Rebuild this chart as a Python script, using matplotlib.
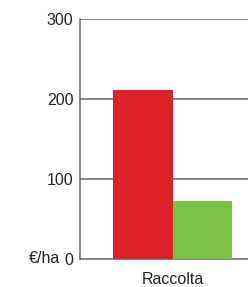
import matplotlib
matplotlib.use("Agg")
import matplotlib.pyplot as plt

plt.rcParams["font.family"] = ["Liberation Sans", "DejaVu Sans"]

CATEGORIES = ["Raccolta"]
SERIES_A = [211]  # red
SERIES_B = [72]   # green
Y_TICKS = [0, 100, 200, 300]
UNIT_LABEL = "€/ha"

RED = "#dc2129"
GREEN = "#7bc143"
LINE = "#666666"
TEXT = "#222222"
FS = 11.5

fig = plt.figure(figsize=(2.48, 2.87), dpi=100)
ax = fig.add_axes([0.3206, 0.0993, 0.6794, 0.8362])

width = 0.356
xs = range(len(CATEGORIES))
ax.bar([x - width / 2 for x in xs], SERIES_A, width=width, color=RED, zorder=3)
ax.bar([x + width / 2 for x in xs], SERIES_B, width=width * 0.99, color=GREEN, zorder=3)

ax.set_xlim(-0.552, 0.448)
ax.set_ylim(0, 300)
ax.set_yticks(Y_TICKS)
ax.set_xticks(list(xs), labels=CATEGORIES)
ax.tick_params(axis="both", length=0, labelsize=FS, colors=TEXT)
ax.tick_params(axis="y", pad=4.5)
ax.tick_params(axis="x", pad=9.5)

for y in Y_TICKS[1:]:
    ax.axhline(y, color=LINE, linewidth=1.1, zorder=1)

for side in ["top", "right"]:
    ax.spines[side].set_visible(False)
ax.spines["left"].set_color(LINE)
ax.spines["bottom"].set_color(LINE)
ax.spines["left"].set_linewidth(1.1)
ax.spines["bottom"].set_linewidth(1.1)

ax.text(-0.118, 0, UNIT_LABEL, transform=ax.get_yaxis_transform(), ha="right", va="center",
        fontsize=FS, color=TEXT)

fig.savefig("out.png", dpi=100)
